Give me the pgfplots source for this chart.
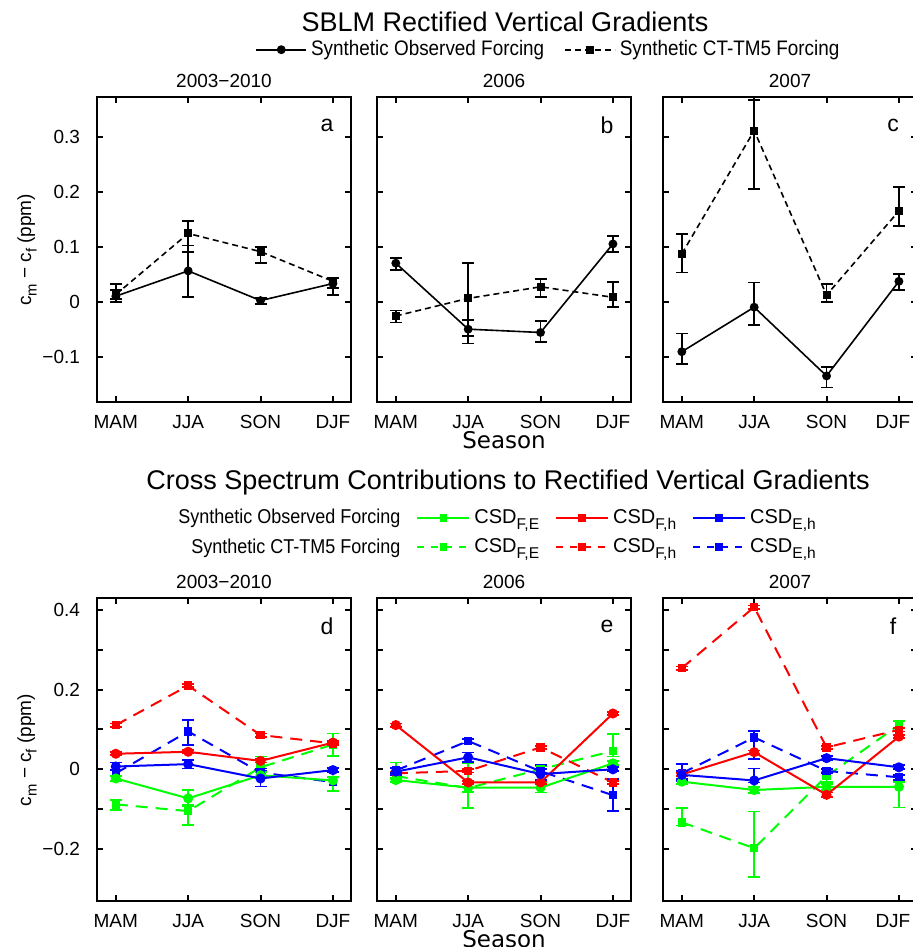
\documentclass[border=0pt]{standalone}
\usepackage{fontspec}
\setmainfont{Liberation Sans}
\newfontfamily\dejavu{DejaVu Sans}
\newfontfamily\narrow[FakeStretch=0.9]{Liberation Sans}
\usepackage{pgfplots}
\pgfplotsset{compat=1.18}
\definecolor{mgreen}{RGB}{0,255,0}
\definecolor{mred}{RGB}{255,0,0}
\definecolor{mblue}{RGB}{0,0,255}
\newcommand{\sub}[1]{\raisebox{-0.55ex}{\scalebox{0.78}{#1}}}

\pgfplotsset{
  panel/.style={scale only axis, width=127pt, anchor=south west,
    xmin=-0.26, xmax=3.25, xtick={0,1,2,3}, xticklabels={MAM,JJA,SON,DJF},
    tick align=inside, major tick length=3pt,
    axis line style={line width=1pt}, tick style={black, line width=1pt},
    tick label style={font=\fontsize{9.5}{11}\selectfont},
    xticklabel style={yshift=-3pt}, yticklabel style={xshift=-5pt},
    title style={font=\fontsize{9.5}{11}\selectfont, at={(0.5,1)}, anchor=center, yshift=2pt},
    clip=false},
  edge/.style={xticklabels={MAM,JJA,SON,{\hspace*{-6pt}DJF}}},
  top/.style={panel, height=152.5pt, ymin=-0.1824, ymax=0.3722,
    ytick={-0.1,0,0.1,0.2,0.3}, yticklabels={−0.1,0,0.1,0.2,0.3}},
  bot/.style={panel, height=151.5pt, ymin=-0.3305, ymax=0.4299,
    ytick={-0.2,-0.1,0,0.1,0.2,0.3,0.4}, yticklabels={−0.2,,0,,0.2,,0.4}},
  errs/.style={error bars/.cd, y dir=both, y explicit,
    error bar style={solid, line width=0.9pt},
    error mark options={solid, rotate=90, mark size=3pt, line width=0.9pt}, /pgfplots/.cd},
  obs/.style={black, line width=0.8pt, mark=*, mark size=1.8pt, errs},
  ct/.style={black, line width=0.8pt, dash pattern=on 3pt off 2pt, mark=square*,
    mark size=1.6pt, mark options={solid}, errs},
  cobs/.style={#1, line width=1pt, mark=*, mark size=2pt, errs},
  cct/.style={#1, line width=1pt, dash pattern=on 6pt off 4pt, mark=square*,
    mark size=1.6pt, mark options={solid}, errs},
}
\newcommand{\letter}[1]{\node[font=\fontsize{11.5}{13}\selectfont] at (rel axis cs:1,1) [xshift=-12pt, yshift=-14pt] {#1};}

\begin{document}
\begin{tikzpicture}
\useasboundingbox (0pt,0pt) rectangle (456.5pt,473.5pt);

% ---------- top row ----------
\begin{axis}[top, at={(48.5pt,272.5pt)}, title={2003−2010}]
\addplot[ct] coordinates {(0,0.013) += (0,0.019) -= (0,0.008) (1,0.124) += (0,0.022) -= (0,0.033)
  (2,0.091) += (0,0.008) -= (0,0.021) (3,0.037) += (0,0.006) -= (0,0.025)};
\addplot[obs] coordinates {(0,0.010) += (0,0.011) -= (0,0.010) (1,0.056) += (0,0.046) -= (0,0.047)
  (2,0.002) += (0,0.005) -= (0,0.006) (3,0.033) += (0,0.009) -= (0,0.008)};
\letter{a}
\end{axis}

\begin{axis}[top, at={(188.5pt,272.5pt)}, yticklabels={}, title={2006},
  legend columns=2, legend cell align=left,
  legend style={draw=none, fill=none, inner sep=0pt, at={(-0.480,1.155)}, anchor=west,
    font=\narrow\fontsize{10.5}{12}\selectfont,
    /tikz/every even column/.append style={column sep=8pt}},
  legend image code/.code={\draw[mark repeat=2, mark phase=2, #1] plot coordinates {(0pt,0pt) (12.5pt,0pt) (25pt,0pt)};}]
\addplot[obs] coordinates {(0,0.070) += (0,0.010) -= (0,0.012) (1,-0.050) += (0,0.017) -= (0,0.012)
  (2,-0.056) += (0,0.021) -= (0,0.018) (3,0.105) += (0,0.014) -= (0,0.014)};
\addplot[ct] coordinates {(0,-0.026) += (0,0.010) -= (0,0.012) (1,0.006) += (0,0.065) -= (0,0.082)
  (2,0.027) += (0,0.014) -= (0,0.019) (3,0.008) += (0,0.028) -= (0,0.017)};
\legend{Synthetic Observed Forcing, Synthetic CT-TM5 Forcing}
\letter{b}
\end{axis}

\begin{axis}[top, edge, at={(331.5pt,272.5pt)}, yticklabels={}, title={2007}]
\addplot[ct] coordinates {(0,0.087) += (0,0.036) -= (0,0.034) (1,0.311) += (0,0.056) -= (0,0.106)
  (2,0.012) += (0,0.020) -= (0,0.012) (3,0.165) += (0,0.043) -= (0,0.027)};
\addplot[obs] coordinates {(0,-0.091) += (0,0.033) -= (0,0.022) (1,-0.010) += (0,0.045) -= (0,0.032)
  (2,-0.135) += (0,0.016) -= (0,0.021) (3,0.037) += (0,0.014) -= (0,0.016)};
\letter{c}
\end{axis}

% ---------- bottom row ----------
\begin{axis}[bot, at={(48.5pt,23pt)}, title={2003−2010}]
\addplot[cct=mgreen] coordinates {(0,-0.088) += (0,0.010) -= (0,0.014) (1,-0.105) += (0,0.015) -= (0,0.035)
  (2,0.005) += (0,0.027) -= (0,0.012) (3,0.062) += (0,0.028) -= (0,0.029)};
\addplot[cct=mred] coordinates {(0,0.111) +- (0,0.004) (1,0.210) +- (0,0.004)
  (2,0.086) +- (0,0.004) (3,0.065) +- (0,0.004)};
\addplot[cct=mblue] coordinates {(0,-0.010) +- (0,0.008) (1,0.095) += (0,0.029) -= (0,0.034)
  (2,-0.008) +- (0,0.010) (3,-0.032) += (0,0.014) -= (0,0.022)};
\addplot[cobs=mgreen] coordinates {(0,-0.023) +- (0,0.006) (1,-0.073) += (0,0.022) -= (0,0.020)
  (2,-0.015) +- (0,0.008) (3,-0.028) += (0,0.008) -= (0,0.026)};
\addplot[cobs=mred] coordinates {(0,0.039) +- (0,0.004) (1,0.044) +- (0,0.004)
  (2,0.021) +- (0,0.004) (3,0.067) +- (0,0.004)};
\addplot[cobs=mblue] coordinates {(0,0.007) +- (0,0.010) (1,0.013) +- (0,0.011)
  (2,-0.023) +- (0,0.020) (3,-0.002) +- (0,0.005)};
\letter{d}
\end{axis}

\begin{axis}[bot, at={(188.5pt,23pt)}, yticklabels={}, title={2006},
  legend columns=4, legend cell align=left,
  legend style={draw=none, fill=none, inner sep=0pt, at={(-0.815,1.216)}, anchor=west,
    font=\fontsize{10}{12}\selectfont, row sep=2pt,
    /tikz/every even column/.append style={column sep=6pt}},
  legend image code/.code={\draw[mark repeat=2, mark phase=2, #1] plot coordinates {(0pt,0pt) (13pt,0pt) (26pt,0pt)};}]
\addlegendimage{empty legend}
\addlegendentry{\makebox[113pt][r]{\narrow Synthetic Observed Forcing}}
\addlegendimage{mgreen, line width=1pt, mark=square*, mark size=1.4pt}
\addlegendentry{CSD\sub{F,E}}
\addlegendimage{mred, line width=1pt, mark=square*, mark size=1.4pt}
\addlegendentry{CSD\sub{F,h}}
\addlegendimage{mblue, line width=1pt, mark=square*, mark size=1.4pt}
\addlegendentry{CSD\sub{E,h}}
\addlegendimage{empty legend}
\addlegendentry{\makebox[113pt][r]{\narrow Synthetic CT-TM5 Forcing}}
\addlegendimage{mgreen, line width=1pt, dash pattern=on 3.5pt off 3.5pt, mark=square*, mark size=1.4pt, mark options={solid}}
\addlegendentry{CSD\sub{F,E}}
\addlegendimage{mred, line width=1pt, dash pattern=on 3.5pt off 3.5pt, mark=square*, mark size=1.4pt, mark options={solid}}
\addlegendentry{CSD\sub{F,h}}
\addlegendimage{mblue, line width=1pt, dash pattern=on 3.5pt off 3.5pt, mark=square*, mark size=1.4pt, mark options={solid}}
\addlegendentry{CSD\sub{E,h}}
\addplot[forget plot, cct=mgreen] coordinates {(0,-0.017) += (0,0.034) -= (0,0.008) (1,-0.047) += (0,0.062) -= (0,0.051)
  (2,0.000) +- (0,0.008) (3,0.046) += (0,0.042) -= (0,0.014)};
\addplot[forget plot, cct=mred] coordinates {(0,-0.010) +- (0,0.004) (1,-0.004) +- (0,0.004)
  (2,0.055) +- (0,0.004) (3,-0.033) +- (0,0.004)};
\addplot[forget plot, cct=mblue] coordinates {(0,-0.003) +- (0,0.006) (1,0.071) +- (0,0.006)
  (2,-0.005) +- (0,0.006) (3,-0.065) +- (0,0.040)};
\addplot[forget plot, cobs=mgreen] coordinates {(0,-0.027) +- (0,0.005) (1,-0.046) +- (0,0.010)
  (2,-0.046) +- (0,0.012) (3,0.015) +- (0,0.005)};
\addplot[forget plot, cobs=mred] coordinates {(0,0.111) +- (0,0.004) (1,-0.033) +- (0,0.004)
  (2,-0.033) +- (0,0.004) (3,0.140) +- (0,0.004)};
\addplot[forget plot, cobs=mblue] coordinates {(0,-0.006) +- (0,0.008) (1,0.030) +- (0,0.012)
  (2,-0.012) += (0,0.023) -= (0,0.015) (3,0.000) +- (0,0.005)};
\letter{e}
\end{axis}

\begin{axis}[bot, edge, at={(331.5pt,23pt)}, yticklabels={}, title={2007}]
\addplot[cct=mgreen] coordinates {(0,-0.133) += (0,0.035) -= (0,0.008) (1,-0.198) += (0,0.092) -= (0,0.073)
  (2,-0.017) += (0,0.010) -= (0,0.015) (3,0.111) += (0,0.010) -= (0,0.008)};
\addplot[cct=mred] coordinates {(0,0.254) +- (0,0.004) (1,0.407) +- (0,0.004)
  (2,0.055) +- (0,0.004) (3,0.099) +- (0,0.004)};
\addplot[cct=mblue] coordinates {(0,-0.010) += (0,0.023) -= (0,0.020) (1,0.080) += (0,0.017) -= (0,0.055)
  (2,-0.004) +- (0,0.005) (3,-0.020) +- (0,0.006)};
\addplot[cobs=mgreen] coordinates {(0,-0.031) +- (0,0.006) (1,-0.052) +- (0,0.007)
  (2,-0.044) +- (0,0.008) (3,-0.044) += (0,0.012) -= (0,0.052)};
\addplot[cobs=mred] coordinates {(0,-0.013) +- (0,0.004) (1,0.043) +- (0,0.004)
  (2,-0.064) +- (0,0.006) (3,0.082) +- (0,0.004)};
\addplot[cobs=mblue] coordinates {(0,-0.014) +- (0,0.010) (1,-0.028) += (0,0.030) -= (0,0.005)
  (2,0.028) +- (0,0.005) (3,0.005) +- (0,0.005)};
\letter{f}
\end{axis}

% ---------- titles and labels (pixel coordinates) ----------
\begin{scope}[x=0.5pt, y=-0.5pt, shift={(0pt,473.5pt)}]
\node[font=\fontsize{13.5}{16}\selectfont] at (505,22) {SBLM Rectified Vertical Gradients};
\node[font=\fontsize{13.5}{16}\selectfont] at (508,483) {Cross Spectrum Contributions to Rectified Vertical Gradients};
\node[font=\dejavu\fontsize{11.5}{13}\selectfont] at (504,440) {Season};
\node[font=\dejavu\fontsize{11.5}{13}\selectfont] at (504,939) {Season};
\node[rotate=90, font=\fontsize{9.5}{11}\selectfont] at (27,250) {c\sub{m} − c\sub{f} (ppm)};
\node[rotate=90, font=\fontsize{9.5}{11}\selectfont] at (27,750) {c\sub{m} − c\sub{f} (ppm)};
\end{scope}
\end{tikzpicture}
\end{document}
